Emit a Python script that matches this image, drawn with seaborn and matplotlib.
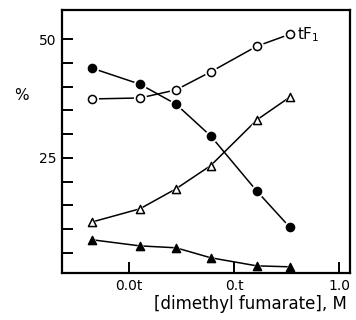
import matplotlib
matplotlib.use("Agg")
import matplotlib.pyplot as plt
import seaborn as sns
import numpy as np

# data
conc = [0.0044, 0.0127, 0.028, 0.060, 0.165, 0.34]
tF1 = [37.4, 37.6, 39.3, 43.1, 48.5, 51.0]
filled_circle = [43.9, 40.5, 36.3, 29.6, 18.0, 10.4]
open_triangle = [11.5, 14.3, 18.5, 23.4, 33.0, 37.8]
filled_triangle = [7.8, 6.5, 6.1, 4.0, 2.3, 2.1]
xtick_vals = [0.01, 0.1, 1.0]
xtick_labels = ["0.0t", "0.t", "1.0"]
ytick_vals = [5, 10, 15, 20, 25, 30, 35, 40, 45, 50]
ytick_labels = ["", "", "", "", "25", "", "", "", "", "50"]

sns.set_theme(style="ticks")
plt.rcParams['font.family'] = ['DejaVu Sans']

fig = plt.figure(figsize=(3.56, 3.2), dpi=100)
ax = fig.add_axes([62/356, 1-273/320, (350-62)/356, (273-10)/320])

series = [
    (tF1, "o", "white"),
    (filled_circle, "o", "black"),
    (open_triangle, "^", "white"),
    (filled_triangle, "^", "black"),
]
for vals, mk, fc in series:
    sns.lineplot(x=conc, y=vals, ax=ax, color="black", linewidth=1.1, zorder=1)
    # white halo creating the small gap between line and marker
    sns.scatterplot(x=conc, y=vals, ax=ax, marker=mk, s=90, color="white",
                    edgecolor="white", linewidth=0, zorder=1.5)
    sns.scatterplot(x=conc, y=vals, ax=ax, marker=mk, s=34, color=fc,
                    edgecolor="black", linewidth=1.1, zorder=4)

ax.set_xscale("log")
ax.set_xlim(0.0023, 1.27)
ax.set_ylim(0.8, 56.1)
ax.set_xticks(xtick_vals)
ax.set_xticklabels(xtick_labels)
ax.xaxis.set_minor_locator(matplotlib.ticker.NullLocator())
ax.set_yticks(ytick_vals)
ax.set_yticklabels(ytick_labels)
ax.tick_params(axis="both", direction="in", length=8, width=1.4,
               labelsize=10, color="black", labelcolor="black")
ax.tick_params(axis="x", pad=4)
ax.tick_params(axis="y", pad=4)
for sp in ax.spines.values():
    sp.set_linewidth(1.6)
    sp.set_color("black")
    sp.set_zorder(3)

ax.set_xlabel("[dimethyl fumarate], M", fontsize=12, color="black")
ax.xaxis.set_label_coords(0.656, -0.085)
ax.set_ylabel("")
fig.text(21/356, 1-95/320, "%", fontsize=11, ha="center", va="center", color="black")
ax.text(0.40, 51.0, "tF$_1$", fontsize=11, va="center", ha="left", color="black")

fig.savefig("out.png", dpi=100)
